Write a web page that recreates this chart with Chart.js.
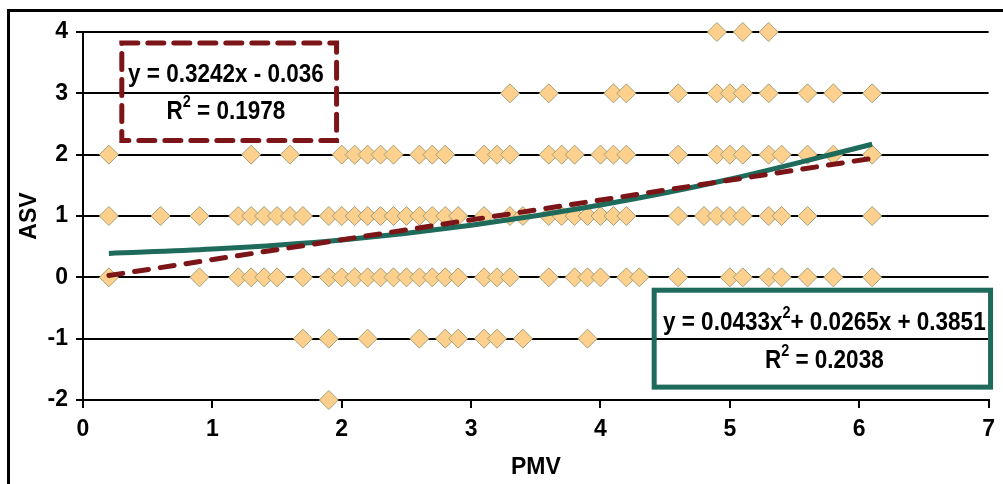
<!DOCTYPE html>
<html>
<head>
<meta charset="utf-8">
<script src="https://cdn.jsdelivr.net/npm/chart.js@4.4.1/dist/chart.umd.min.js"></script>
<style>
html,body{margin:0;padding:0;background:#fff;}
#wrap{width:1003px;height:484px;position:relative;}
</style>
</head>
<body>
<div id="wrap"><canvas id="c" width="1003" height="484"></canvas></div>
<script>
// ---- data ----
const xTicks = [0, 1, 2, 3, 4, 5, 6, 7];
const yTicks = [-2, -1, 0, 1, 2, 3, 4];
const asvLevels = [4, 3, 2, 1, 0, -1, -2];
const pmvAt4 = [4.9, 5.1, 5.3];
const pmvAt3 = [3.3, 3.6, 4.1, 4.2, 4.6, 4.9, 5.0, 5.1, 5.3, 5.6, 5.8, 6.1];
const pmvAt2 = [0.2, 1.3, 1.6, 2.0, 2.1, 2.2, 2.3, 2.4, 2.6, 2.7, 2.8, 3.1, 3.2, 3.3, 3.6, 3.7, 3.8, 4.0, 4.1, 4.2, 4.6, 4.9, 5.0, 5.1, 5.3, 5.4, 5.6, 5.8, 6.1];
const pmvAt1 = [0.2, 0.6, 0.9, 1.2, 1.3, 1.4, 1.5, 1.6, 1.7, 1.9, 2.0, 2.1, 2.2, 2.3, 2.4, 2.5, 2.6, 2.7, 2.8, 2.9, 3.1, 3.3, 3.4, 3.6, 3.7, 3.8, 3.9, 4.0, 4.1, 4.2, 4.6, 4.8, 4.9, 5.0, 5.1, 5.3, 5.4, 5.6, 6.1];
const pmvAt0 = [0.2, 0.9, 1.2, 1.3, 1.4, 1.5, 1.7, 1.9, 2.0, 2.1, 2.2, 2.3, 2.4, 2.5, 2.6, 2.7, 2.8, 2.9, 3.1, 3.2, 3.3, 3.6, 3.8, 3.9, 4.0, 4.2, 4.3, 4.6, 5.0, 5.1, 5.3, 5.4, 5.6, 5.8, 6.1];
const pmvAtM1 = [1.7, 1.9, 2.2, 2.6, 2.8, 2.9, 3.1, 3.2, 3.4, 3.9];
const pmvAtM2 = [1.9];
const linTrendX = [0.2, 6.1];
const linTrendY = [0.03, 1.94];
const polyTrendX = [0.2, 1, 2, 3, 4, 5, 6.1];
const polyTrendY = [0.39, 0.46, 0.61, 0.85, 1.18, 1.60, 2.17];

// ---- build points ----
const rows = [pmvAt4, pmvAt3, pmvAt2, pmvAt1, pmvAt0, pmvAtM1, pmvAtM2];
const scatterPts = [];
rows.forEach((xs, i) => xs.forEach(x => scatterPts.push({x: x, y: asvLevels[i]})));
const linPts = linTrendX.map((x, i) => ({x: x, y: linTrendY[i]}));
const polyPts = polyTrendX.map((x, i) => ({x: x, y: polyTrendY[i]}));

const RED = '#7c1518', TEAL = '#1e6a5b';
const FONT = '"Liberation Sans", Arial, sans-serif';

// annotation boxes in data coordinates
const boxes = [
  {x0: 0.30, x1: 1.96, y0: 3.82, y1: 2.23, color: RED, dash: [16, 10],
   lines: [[{t: 'y = 0.3242x - 0.036'}], [{t: 'R'}, {t: '2', sup: true}, {t: ' = 0.1978'}]],
   cx: 1.105, ly: [3.30, 2.70]},
  {x0: 4.415, x1: 7.015, y0: -0.21, y1: -1.79, color: TEAL, dash: [],
   lines: [[{t: 'y = 0.0433x'}, {t: '2', sup: true}, {t: '+ 0.0265x + 0.3851'}], [{t: 'R'}, {t: '2', sup: true}, {t: ' = 0.2038'}]],
   cx: 5.73, ly: [-0.74, -1.36]}
];

function drawRich(ctx, segs, cx, cy, size, sx) {
  const big = 'bold ' + size + 'px ' + FONT;
  const small = 'bold ' + Math.round(size * 0.62) + 'px ' + FONT;
  let w = 0;
  segs.forEach(s => { ctx.font = s.sup ? small : big; s.w = ctx.measureText(s.t).width; w += s.w; });
  ctx.save();
  ctx.translate(cx, cy);
  ctx.scale(sx, 1);
  ctx.fillStyle = '#000';
  ctx.textBaseline = 'middle';
  ctx.textAlign = 'left';
  let x = -w / 2;
  segs.forEach(s => {
    ctx.font = s.sup ? small : big;
    ctx.fillText(s.t, x, s.sup ? -size * 0.36 : 0);
    x += s.w;
  });
  ctx.restore();
}

const decor = {
  id: 'decor',
  afterDraw(chart) {
    const ctx = chart.ctx, xs = chart.scales.x, ys = chart.scales.y;
    ctx.save();
    // outer frame
    ctx.strokeStyle = '#000';
    ctx.lineWidth = 3;
    ctx.beginPath();
    ctx.moveTo(8.5, 484);
    ctx.lineTo(8.5, 10.5);
    ctx.lineTo(1003, 10.5);
    ctx.stroke();
    boxes.forEach(b => {
      const l = xs.getPixelForValue(b.x0), r = xs.getPixelForValue(b.x1);
      const t = ys.getPixelForValue(b.y0), bt = ys.getPixelForValue(b.y1);
      ctx.save();
      ctx.strokeStyle = b.color;
      ctx.lineWidth = 5;
      ctx.setLineDash(b.dash);
      ctx.lineCap = b.dash.length ? 'round' : 'butt';
      ctx.strokeRect(l, t, r - l, bt - t);
      ctx.restore();
      b.lines.forEach((segs, i) => {
        drawRich(ctx, segs, xs.getPixelForValue(b.cx), ys.getPixelForValue(b.ly[i]), 25, 0.9);
      });
    });
    ctx.restore();
  }
};

new Chart(document.getElementById('c'), {
  type: 'scatter',
  data: {
    datasets: [
      {label: 'ASV', data: scatterPts, order: 2, clip: false, pointStyle: 'rectRot', pointRadius: 9.5,
       pointHoverRadius: 9.5, backgroundColor: '#fdd08e', borderColor: '#a2a178', borderWidth: 1},
      {label: 'Poly', type: 'line', data: polyPts, order: 1, borderColor: TEAL, borderWidth: 5,
       pointRadius: 0, cubicInterpolationMode: 'monotone', fill: false},
      {label: 'Linear', type: 'line', data: linPts, order: 0, borderColor: RED, borderWidth: 5,
       borderDash: [14, 12], borderCapStyle: 'round', pointRadius: 0, fill: false}
    ]
  },
  options: {
    responsive: false,
    animation: false,
    events: [],
    layout: {padding: {left: 0, top: 32, right: 10, bottom: 0}},
    plugins: {legend: {display: false}, tooltip: {enabled: false}},
    scales: {
      x: {
        type: 'linear', min: xTicks[0], max: xTicks[xTicks.length - 1],
        afterBuildTicks: s => { s.ticks = xTicks.map(v => ({value: v})); },
        afterFit: s => { s.height = 84; },
        ticks: {color: '#000', font: {family: FONT, size: 23, weight: 'bold'}, padding: 8},
        grid: {drawOnChartArea: false, drawTicks: true, tickLength: 8, color: '#000', lineWidth: 2},
        border: {color: '#000', width: 2},
        title: {display: true, text: 'PMV', color: '#000', font: {family: FONT, size: 23, weight: 'bold'}, padding: {top: 2, bottom: 3}}
      },
      y: {
        type: 'linear', min: yTicks[0], max: yTicks[yTicks.length - 1],
        afterBuildTicks: s => { s.ticks = yTicks.map(v => ({value: v})); },
        afterFit: s => { s.width = 83; },
        ticks: {color: '#000', font: {family: FONT, size: 23, weight: 'bold'}, padding: 8},
        grid: {color: '#000', lineWidth: 2, tickLength: 7},
        border: {color: '#000', width: 2},
        title: {display: true, text: 'ASV', color: '#000', font: {family: FONT, size: 23, weight: 'bold'}, padding: {top: 16, bottom: 0}}
      }
    }
  },
  plugins: [decor]
});
</script>
</body>
</html>
